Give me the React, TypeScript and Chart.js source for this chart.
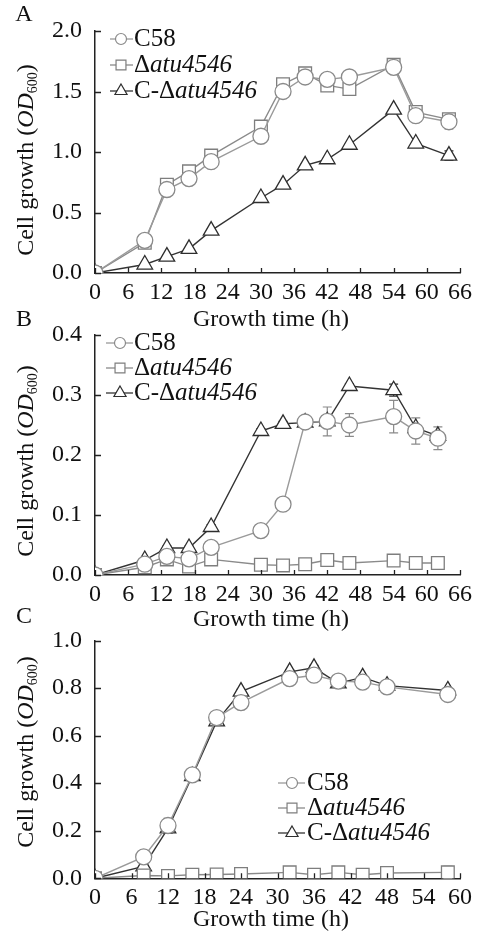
import React, { useEffect, useRef } from "react";
import { Chart, registerables } from "chart.js";

Chart.register(...registerables);

const FONT = '"Liberation Serif", "Times New Roman", serif';

// ---------- shared series info ----------
const seriesLabels = ["C58", "Δatu4546", "C-Δatu4546"];
const lineColors = ["#9a9a9a", "#8a8a8a", "#333333"];
const markerColors = ["#8a8a8a", "#7e7e7e", "#2e2e2e"];
const pointStyles = ["circle", "rect", "triangle"];
const pointRadii = [8, 9, 9];

// ---------- Panel A ----------
const timeA = [0, 9, 13, 17, 21, 30, 34, 38, 42, 46, 54, 58, 64];
const c58A = [0, 0.27, 0.69, 0.78, 0.92, 1.13, 1.5, 1.62, 1.6, 1.62, 1.7, 1.3, 1.25];
const deltaA = [0, 0.25, 0.73, 0.84, 0.97, 1.21, 1.56, 1.65, 1.55, 1.52, 1.72, 1.33, 1.27];
const compA = [0, 0.07, 0.135, 0.2, 0.35, 0.62, 0.73, 0.89, 0.94, 1.06, 1.35, 1.07, 0.97];
const c58ErrA = [0, 0.02, 0.02, 0.02, 0.02, 0.02, 0.02, 0.02, 0.02, 0.02, 0.02, 0.02, 0.06];
const deltaErrA = [0, 0.02, 0.02, 0.02, 0.02, 0.02, 0.02, 0.02, 0.04, 0.02, 0.02, 0.02, 0.03];
const compErrA = [0, 0.01, 0.01, 0.01, 0.01, 0.01, 0.01, 0.01, 0.01, 0.01, 0.01, 0.01, 0.04];
const xTicksA = [0, 6, 12, 18, 24, 30, 36, 42, 48, 54, 60, 66];
const yTicksA = [0, 0.5, 1.0, 1.5, 2.0];

// ---------- Panel B ----------
const timeB = [0, 9, 13, 17, 21, 30, 34, 38, 42, 46, 54, 58, 62];
const c58B = [0, 0.018, 0.031, 0.027, 0.046, 0.074, 0.118, 0.255, 0.256, 0.25, 0.264, 0.24, 0.228];
const deltaB = [0, 0.013, 0.026, 0.014, 0.026, 0.017, 0.016, 0.018, 0.025, 0.02, 0.024, 0.02, 0.02];
const compB = [0, 0.025, 0.045, 0.045, 0.08, 0.24, 0.252, 0.254, 0.256, 0.315, 0.308, 0.245, 0.232];
const c58ErrB = [0, 0.003, 0.003, 0.003, 0.003, 0.003, 0.003, 0.004, 0.024, 0.019, 0.027, 0.022, 0.019];
const deltaErrB = [0, 0.002, 0.002, 0.002, 0.002, 0.002, 0.002, 0.002, 0.002, 0.002, 0.002, 0.002, 0.002];
const compErrB = [0, 0.003, 0.003, 0.003, 0.004, 0.004, 0.004, 0.004, 0.004, 0.004, 0.01, 0.005, 0.005];
const xTicksB = [0, 6, 12, 18, 24, 30, 36, 42, 48, 54, 60, 66];
const yTicksB = [0, 0.1, 0.2, 0.3, 0.4];

// ---------- Panel C ----------
const timeC = [0, 8, 12, 16, 20, 24, 32, 36, 40, 44, 48, 58];
const c58C = [0, 0.09, 0.222, 0.435, 0.676, 0.739, 0.84, 0.854, 0.829, 0.825, 0.805, 0.773];
const deltaC = [0, 0.012, 0.01, 0.015, 0.016, 0.018, 0.025, 0.015, 0.025, 0.015, 0.022, 0.025];
const compC = [0, 0.05, 0.21, 0.43, 0.66, 0.785, 0.868, 0.885, 0.82, 0.845, 0.81, 0.79];
const c58ErrC = [0, 0.01, 0.03, 0.02, 0.015, 0.01, 0.01, 0.01, 0.015, 0.01, 0.02, 0.01];
const deltaErrC = [0, 0.003, 0.003, 0.003, 0.003, 0.003, 0.003, 0.003, 0.003, 0.003, 0.003, 0.025];
const compErrC = [0, 0.01, 0.02, 0.02, 0.015, 0.01, 0.01, 0.01, 0.015, 0.01, 0.02, 0.01];
const xTicksC = [0, 6, 12, 18, 24, 30, 36, 42, 48, 54, 60];
const yTicksC = [0, 0.2, 0.4, 0.6, 0.8, 1.0];

type PanelCfg = {
  letter: string;
  top: number;
  height: number;
  plotTop: number;
  plotBottom: number;
  times: number[];
  values: number[][];
  errors: number[][];
  xTicks: number[];
  yTicks: number[];
  yTitleY: number;
  xTitleY: number;
  letterY: number;
  legend: { x0: number; x1: number; xm: number; xt: number; y0: number; dy: number };
};

const panels: PanelCfg[] = [
  {
    letter: "A", top: 0, height: 335, plotTop: 31, plotBottom: 273,
    times: timeA, values: [c58A, deltaA, compA], errors: [c58ErrA, deltaErrA, compErrA],
    xTicks: xTicksA, yTicks: yTicksA,
    yTitleY: 160, xTitleY: 320, letterY: 15,
    legend: { x0: 110, x1: 133, xm: 121, xt: 134, y0: 39, dy: 26 },
  },
  {
    letter: "B", top: 300, height: 340, plotTop: 35, plotBottom: 275,
    times: timeB, values: [c58B, deltaB, compB], errors: [c58ErrB, deltaErrB, compErrB],
    xTicks: xTicksB, yTicks: yTicksB,
    yTitleY: 161, xTitleY: 320, letterY: 20,
    legend: { x0: 106, x1: 133, xm: 120, xt: 134, y0: 43, dy: 25 },
  },
  {
    letter: "C", top: 600, height: 335, plotTop: 40.5, plotBottom: 278.3,
    times: timeC, values: [c58C, deltaC, compC], errors: [c58ErrC, deltaErrC, compErrC],
    xTicks: xTicksC, yTicks: yTicksC,
    yTitleY: 152, xTitleY: 320, letterY: 17,
    legend: { x0: 278, x1: 305, xm: 292, xt: 307, y0: 183, dy: 25 },
  },
];

function drawMarker(
  ctx: CanvasRenderingContext2D, style: string, x: number, y: number, r: number,
  stroke: string, lw: number
) {
  ctx.save();
  ctx.beginPath();
  if (style === "circle") {
    ctx.arc(x, y, r, 0, Math.PI * 2);
  } else if (style === "rect") {
    const h = r * Math.SQRT1_2;
    ctx.rect(x - h, y - h, 2 * h, 2 * h);
  } else {
    const s = Math.sin(Math.PI / 3) * r;
    ctx.moveTo(x, y - r);
    ctx.lineTo(x + s, y + r / 2);
    ctx.lineTo(x - s, y + r / 2);
    ctx.closePath();
  }
  ctx.fillStyle = "#ffffff";
  ctx.fill();
  ctx.lineWidth = lw;
  ctx.strokeStyle = stroke;
  ctx.stroke();
  ctx.restore();
}

function makeDecor(cfg: PanelCfg) {
  return {
    id: "decor" + cfg.letter,
    beforeDatasetsDraw(chart: any) {
      const ctx: CanvasRenderingContext2D = chart.ctx;
      const xs = chart.scales.x;
      const ys = chart.scales.y;
      ctx.save();
      for (let d = cfg.values.length - 1; d >= 0; d--) {
        ctx.strokeStyle = markerColors[d];
        ctx.lineWidth = 1.2;
        cfg.times.forEach((t, i) => {
          const e = cfg.errors[d][i];
          const v = cfg.values[d][i];
          if (!e) return;
          const px = xs.getPixelForValue(t);
          const y1 = ys.getPixelForValue(v + e);
          const y2 = ys.getPixelForValue(Math.max(0, v - e));
          ctx.beginPath();
          ctx.moveTo(px, y1);
          ctx.lineTo(px, y2);
          ctx.moveTo(px - 4.5, y1);
          ctx.lineTo(px + 4.5, y1);
          ctx.moveTo(px - 4.5, y2);
          ctx.lineTo(px + 4.5, y2);
          ctx.stroke();
        });
      }
      ctx.restore();
    },
    afterDraw(chart: any) {
      const ctx: CanvasRenderingContext2D = chart.ctx;
      const xs = chart.scales.x;
      const ys = chart.scales.y;
      const area = chart.chartArea;
      ctx.save();
      // inward ticks
      ctx.strokeStyle = "#222";
      ctx.lineWidth = 1.3;
      ctx.beginPath();
      cfg.xTicks.forEach((t) => {
        const px = Math.round(xs.getPixelForValue(t)) + 0.5;
        ctx.moveTo(px, area.bottom);
        ctx.lineTo(px, area.bottom - 5);
      });
      cfg.yTicks.forEach((v) => {
        const py = Math.round(ys.getPixelForValue(v)) + 0.5;
        ctx.moveTo(area.left, py);
        ctx.lineTo(area.left + 6, py);
      });
      ctx.stroke();

      ctx.fillStyle = "#111";
      ctx.textBaseline = "middle";
      // panel letter
      ctx.font = `24px ${FONT}`;
      ctx.textAlign = "center";
      ctx.fillText(cfg.letter, 24, cfg.letterY);
      // x title
      ctx.fillText("Growth time (h)", 271, cfg.xTitleY);

      // y title (rotated, mixed styles)
      ctx.save();
      ctx.translate(27, cfg.yTitleY);
      ctx.rotate(-Math.PI / 2);
      const parts = [
        { t: "Cell growth (", f: `24px ${FONT}`, dy: 0 },
        { t: "OD", f: `italic 24px ${FONT}`, dy: 0 },
        { t: "600", f: `14px ${FONT}`, dy: 6 },
        { t: ")", f: `24px ${FONT}`, dy: 0 },
      ];
      let total = 0;
      parts.forEach((p) => {
        ctx.font = p.f;
        total += ctx.measureText(p.t).width;
      });
      let cx = -total / 2;
      ctx.textAlign = "left";
      parts.forEach((p) => {
        ctx.font = p.f;
        ctx.fillText(p.t, cx, p.dy);
        cx += ctx.measureText(p.t).width;
      });
      ctx.restore();

      // legend
      const lg = cfg.legend;
      const legendRadii = [5.5, 7, 7];
      seriesLabels.forEach((label, i) => {
        const y = lg.y0 + i * lg.dy;
        ctx.strokeStyle = lineColors[i];
        ctx.lineWidth = 1.3;
        ctx.beginPath();
        ctx.moveTo(lg.x0, y);
        ctx.lineTo(lg.x1, y);
        ctx.stroke();
        drawMarker(ctx, pointStyles[i], lg.xm, y, legendRadii[i], markerColors[i], 1.2);
        ctx.fillStyle = "#111";
        ctx.textAlign = "left";
        const idx = label.indexOf("atu");
        let tx = lg.xt;
        if (idx < 0) {
          ctx.font = `25px ${FONT}`;
          ctx.fillText(label, tx, y);
        } else {
          const pre = label.slice(0, idx);
          const it = label.slice(idx);
          ctx.font = `25px ${FONT}`;
          ctx.fillText(pre, tx, y);
          tx += ctx.measureText(pre).width;
          ctx.font = `italic 25px ${FONT}`;
          ctx.fillText(it, tx, y);
        }
      });
      ctx.restore();
    },
  };
}

function Panel({ cfg }: { cfg: PanelCfg }) {
  const ref = useRef<HTMLCanvasElement | null>(null);
  useEffect(() => {
    if (!ref.current) return;
    const datasets = cfg.values.map((vals, d) => ({
      label: seriesLabels[d],
      data: cfg.times.map((t, i) => ({ x: t, y: vals[i] })),
      borderColor: lineColors[d],
      borderWidth: 1.4,
      pointStyle: pointStyles[d] as any,
      pointRadius: pointRadii[d],
      pointBackgroundColor: "#ffffff",
      pointBorderColor: markerColors[d],
      pointBorderWidth: 1.3,
      tension: 0,
      fill: false,
    }));
    const tickFont = { family: FONT, size: 24 };
    const chart = new Chart(ref.current, {
      type: "line",
      data: { datasets },
      options: {
        animation: false,
        responsive: false,
        maintainAspectRatio: false,
        events: [],
        layout: { padding: { top: cfg.plotTop, right: 17, left: 0, bottom: 0 } },
        plugins: {
          legend: { display: false },
          tooltip: { enabled: false },
          title: { display: false },
        },
        scales: {
          x: {
            type: "linear",
            min: cfg.xTicks[0],
            max: cfg.xTicks[cfg.xTicks.length - 1],
            afterFit: (s: any) => {
              s.height = cfg.height - cfg.plotBottom;
            },
            afterBuildTicks: (s: any) => {
              s.ticks = cfg.xTicks.map((v) => ({ value: v }));
            },
            ticks: {
              font: tickFont,
              color: "#111",
              padding: 5,
              maxRotation: 0,
              autoSkip: false,
              callback: (v: any) => String(v),
            },
            grid: { display: false, drawTicks: false },
            border: { display: true, color: "#222", width: 1.5 },
          },
          y: {
            type: "linear",
            min: cfg.yTicks[0],
            max: cfg.yTicks[cfg.yTicks.length - 1],
            afterFit: (s: any) => {
              s.width = 95;
            },
            afterBuildTicks: (s: any) => {
              s.ticks = cfg.yTicks.map((v) => ({ value: v }));
            },
            ticks: {
              font: tickFont,
              color: "#111",
              padding: 13,
              autoSkip: false,
              callback: (v: any) => Number(v).toFixed(1),
            },
            grid: { display: false, drawTicks: false },
            border: { display: true, color: "#222", width: 1.5 },
          },
        },
      },
      plugins: [makeDecor(cfg)],
    });
    return () => chart.destroy();
  }, [cfg]);
  return (
    <canvas
      ref={ref}
      width={477}
      height={cfg.height}
      style={{
        position: "absolute",
        left: 0,
        top: cfg.top,
        width: 477,
        height: cfg.height,
        display: "block",
      }}
    />
  );
}

export default function App() {
  return (
    <div
      style={{
        position: "absolute",
        left: 0,
        top: 0,
        width: 477,
        height: 935,
        background: "#ffffff",
        overflow: "hidden",
      }}
    >
      {panels.map((p) => (
        <Panel key={p.letter} cfg={p} />
      ))}
    </div>
  );
}
